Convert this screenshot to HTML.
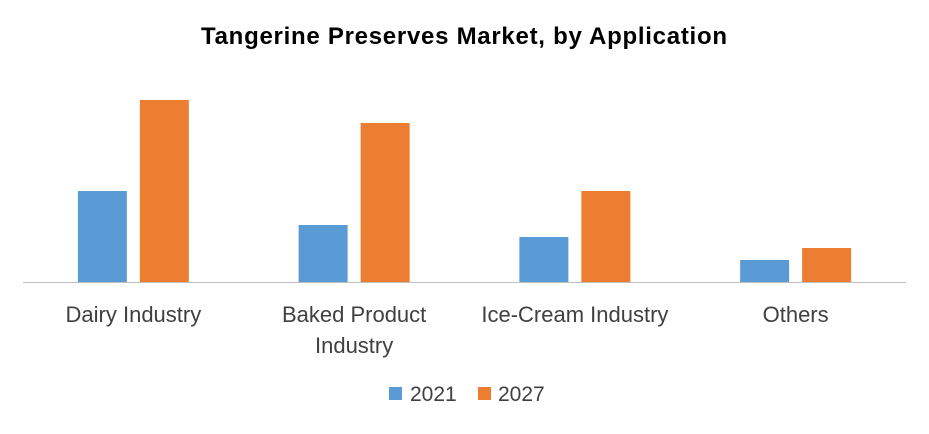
<!DOCTYPE html>
<html><head><meta charset="utf-8"><style>
body{margin:0;background:#fff;width:929px;height:429px;overflow:hidden;font-family:"Liberation Sans",sans-serif}
</style></head><body>
<svg width="929" height="429" font-family="Liberation Sans, sans-serif">
<text x="464" y="44" text-anchor="middle" font-size="24" font-weight="bold" fill="#000" textLength="526">Tangerine Preserves Market, by Application</text>
<g id="bars"></g>
<line x1="23" y1="282.5" x2="906" y2="282.5" stroke="#bfbfbf" stroke-width="1"/>
<g id="labels"></g>
<g>
<rect x="389" y="387" width="13" height="13" fill="#5b9bd5"/>
<text x="410" y="401" font-size="21" fill="#404040">2021</text>
<rect x="478" y="387" width="13" height="13" fill="#ed7d31"/>
<text x="498" y="401" font-size="21" fill="#404040">2027</text>
</g>
</svg>
<script>
const categories=[["Dairy Industry"],["Baked Product","Industry"],["Ice-Cream Industry"],["Others"]];
const series2021=[91,57,45,22];
const series2027=[182,159,91,34];
const NS="http://www.w3.org/2000/svg";
const left=23,width=883,base=282,plotH=200,maxV=200;
const band=width/categories.length;
function y(v){return base-v/maxV*plotH;}
function bx(i,s){return left+i*band+(band/2)-55.5+s*62;}
const g=document.getElementById('bars'),lg=document.getElementById('labels');
categories.forEach((c,i)=>{
 [[series2021,'#5b9bd5','2021'],[series2027,'#ed7d31','2027']].forEach((s,k)=>{
  const r=document.createElementNS(NS,'rect');
  r.setAttribute('x',bx(i,k));r.setAttribute('y',y(s[0][i]));
  r.setAttribute('width',49);r.setAttribute('height',base-y(s[0][i]));
  r.setAttribute('fill',s[1]);
  
  
  g.appendChild(r);
 });
 c.forEach((line,j)=>{
  const t=document.createElementNS(NS,'text');
  t.setAttribute('x',left+i*band+band/2);t.setAttribute('y',322+j*31);
  t.setAttribute('text-anchor','middle');t.setAttribute('font-size','22');t.setAttribute('fill','#404040');
  t.textContent=line;
  
  
  lg.appendChild(t);
 });
});
</script>
</body></html>
